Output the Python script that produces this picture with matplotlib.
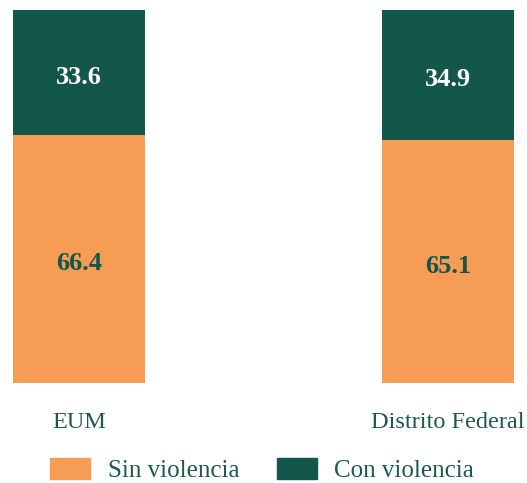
import matplotlib.pyplot as plt
from matplotlib.patches import Patch

categories = ["EUM", "Distrito Federal"]
sin_violencia = [66.4, 65.1]
con_violencia = [33.6, 34.9]

ORANGE = "#F79C55"
GREEN = "#13574A"
TEXT = "#1E5A4A"

plt.rcParams["font.family"] = ["Liberation Serif", "DejaVu Serif"]

fig = plt.figure(figsize=(5.27, 4.83), dpi=100)
ax = fig.add_axes([13 / 527, 100 / 483, 501 / 527, 373 / 483])

x = [0, 1]
w = 0.358
ax.bar(x, sin_violencia, width=w, color=ORANGE, label="Sin violencia")
ax.bar(x, con_violencia, width=w, bottom=sin_violencia, color=GREEN, label="Con violencia")

# value labels, nudged a touch below the segment centre like the original
for xi, s, c in zip(x, sin_violencia, con_violencia):
    ax.text(xi, s / 2 - 0.6, f"{s:.1f}", ha="center", va="center_baseline",
            fontsize=19, fontweight="bold", color=GREEN)
    ax.text(xi, s + c / 2 - 0.6, f"{c:.1f}", ha="center", va="center_baseline",
            fontsize=19, fontweight="bold", color="white")

ax.set_xlim(-w / 2, 1 + w / 2)
ax.set_ylim(0, 100)
ax.set_xticks(x)
ax.set_xticklabels(categories, fontsize=17.5, color=TEXT)
ax.tick_params(axis="x", length=0, pad=21)
ax.set_yticks([])
for s in ax.spines.values():
    s.set_visible(False)

handles = [Patch(color=ORANGE, label="Sin violencia"),
           Patch(color=GREEN, label="Con violencia")]
leg = fig.legend(handles=handles, loc="center left", bbox_to_anchor=(50 / 527, 1 - 470 / 483),
                 ncol=2, frameon=False, fontsize=18, handlelength=1.6, handleheight=0.9,
                 handletextpad=0.7, columnspacing=1.5, borderaxespad=0, borderpad=0)
for t in leg.get_texts():
    t.set_color(TEXT)

fig.savefig("out.png", dpi=100)
